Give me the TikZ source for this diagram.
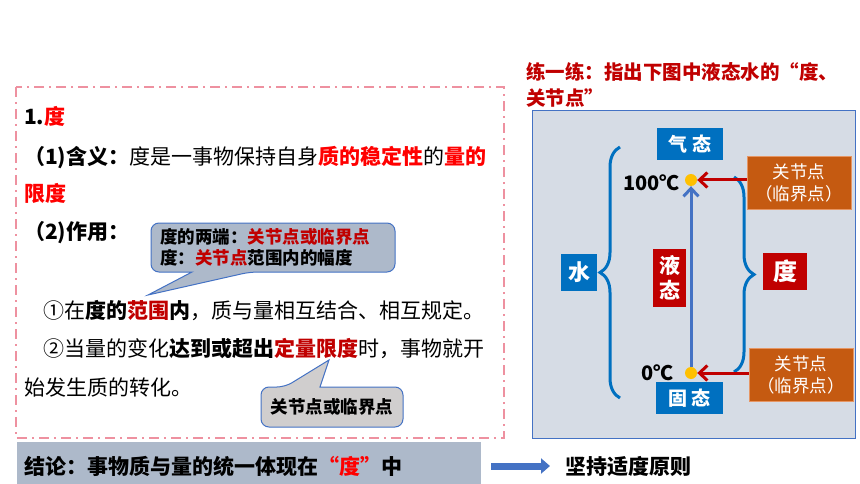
\documentclass[tikz,border=0pt]{standalone}
\usepackage{fontspec}
\setmainfont{Noto Sans CJK SC}
\usetikzlibrary{arrows.meta,decorations.pathreplacing}
\definecolor{keyred}{RGB}{255,0,0}
\definecolor{darkred}{RGB}{192,0,0}
\definecolor{pinkdash}{RGB}{238,145,160}
\definecolor{barfill}{RGB}{173,185,202}
\definecolor{panelfill}{RGB}{214,220,229}
\definecolor{panelline}{RGB}{68,114,196}
\definecolor{stateblue}{RGB}{0,112,192}
\definecolor{nodeorange}{RGB}{197,90,17}
\definecolor{orangeline}{RGB}{230,150,100}
\definecolor{dotyellow}{RGB}{255,192,0}
\definecolor{callgray}{RGB}{208,206,206}
\newcommand\setsz[2]{\fontsize{#1}{#2}\selectfont}
\newcommand\redbf[1]{\textbf{\textcolor{keyred}{#1}}}
\newcommand\drbf[1]{\textbf{\textcolor{darkred}{#1}}}
\tikzstyle{txt}=[anchor=west, inner sep=0pt, font=\setsz{21pt}{25pt}]
\tikzstyle{calltxt}=[inner sep=0pt, align=left, font=\bfseries\setsz{17.5pt}{21pt}]
\tikzstyle{statenode}=[fill=stateblue, text=white, inner sep=0pt, font=\bfseries\setsz{19pt}{22pt}]
\tikzstyle{rednode}=[fill=darkred, text=white, inner sep=0pt, align=center, font=\bfseries\setsz{22pt}{25pt}]
\tikzstyle{gjnode}=[fill=nodeorange, draw=orangeline, line width=0.8pt, text=white, align=center, inner sep=0pt, minimum width=104pt, minimum height=53pt, font=\setsz{17.5pt}{22pt}]
\tikzstyle{tempdot}=[circle, fill=dotyellow, inner sep=0pt, minimum size=12pt]
\tikzstyle{temptxt}=[anchor=east, inner sep=0pt, font=\bfseries\setsz{20pt}{24pt}]
\tikzstyle{curly}=[decorate, decoration={brace, amplitude=20pt}, line width=3pt, draw=stateblue]
\tikzstyle{redarrow}=[line width=3pt, draw=darkred, -{Straight Barb[length=8pt,width=15pt]}]
\tikzstyle{bluearrow}=[line width=3pt, draw=panelline, -{Straight Barb[length=8pt,width=15pt]}]
\tikzstyle{callshape}=[draw=panelline, line width=1pt]
\tikzstyle{fatarrow}=[line width=7pt, draw=panelline, -{Triangle[length=9pt,width=15pt]}]

\begin{document}
\begin{tikzpicture}[x=1pt, y=-1pt]
\useasboundingbox (0,0) rectangle (860,484);

\draw [pinkdash, line width=1.5pt, dash pattern=on 10pt off 5pt on 2pt off 5pt] (16,87) rectangle (504,438);
\node (l1) [txt] at (24,116) {\textbf{1.}\redbf{度}};
\node (l2) [txt] at (24,158) {\textbf{（1)含义：}度是一事物保持自身\redbf{质的稳定性}的\redbf{量的}};
\node (l3) [txt] at (24,193) {\redbf{限度}};
\node (l4) [txt] at (24,233) {\textbf{（2)作用：}};
\node (l5) [txt] at (43,311) {①在\textbf{度的}\drbf{范围}\textbf{内}，质与量相互结合、相互规定。};
\node (l6) [txt] at (43,349) {②当量的变化\textbf{达到或超出}\drbf{定量限度}时，事物就开};
\node (l7) [txt] at (24,388) {始发生质的转化。};

\draw [callshape, fill=barfill, rounded corners=8pt] (151,223) -- (395,223) -- (395,272) -- (250,272)
    [sharp corners] -- (148,295) -- (192,272) [rounded corners=8pt] -- (151,272) -- cycle;
\node (callA) [calltxt, anchor=west] at (160,247.5) {度的两端：\textcolor{darkred}{关节点或临界点}\\度：\textcolor{darkred}{关节点}范围内的幅度};

\draw [callshape, fill=callgray, rounded corners=8pt] (261,387) -- (285,387)
    [sharp corners] -- (329,360) -- (320,387) [rounded corners=8pt] -- (403,387) -- (403,427) -- (261,427) -- cycle;
\node (callB) [calltxt] at (332,407) {关节点或临界点};

\node (concl) [fill=barfill, anchor=west, text width=450pt, inner xsep=7pt, inner ysep=0pt, minimum height=48pt,
    font=\bfseries\setsz{21pt}{25pt}] at (17,466) {结论：事物质与量的统一体现在\textcolor{keyred}{“度”}中};
\node (rule) [txt, font=\bfseries\setsz{21pt}{25pt}] at (565,466) {坚持适度原则};
\draw [fatarrow, shorten <=10pt, shorten >=15pt] (concl.east) -- (rule.west);

\node (t1) [txt, text=darkred, font=\bfseries\setsz{19.5pt}{24pt}] at (526,72) {练一练：指出下图中液态水的“度、};
\node (t2) [txt, text=darkred, font=\bfseries\setsz{19.5pt}{24pt}] at (526,98) {关节点”};

\draw [fill=panelfill, draw=panelline, line width=1pt] (532,111) rectangle (855,438);

\node (gas) [statenode, minimum width=66pt, minimum height=32pt] at (690,144) {气 态};
\node (solid) [statenode, minimum width=67pt, minimum height=32pt] at (689.5,398) {固 态};
\node (water) [statenode, minimum width=36pt, minimum height=37pt, font=\bfseries\setsz{22pt}{25pt}] at (579,272.5) {水};
\node (liquid) [rednode, minimum width=33pt, minimum height=58pt, font=\bfseries\setsz{21pt}{25pt}] at (669.5,278) {液\\态};
\node (du) [rednode, minimum width=44pt, minimum height=37pt, font=\bfseries\setsz{24pt}{26pt}] at (785,271.5) {度};

\node (hot) [tempdot] at (691,180) {};
\node (cold) [tempdot] at (691,373) {};
\node (hotT) [temptxt] at (680,183) {100℃};
\node (coldT) [temptxt] at (674,373) {0℃};

\node (gjA) [gjnode] at (799,182.5) {关节点\\（临界点）};
\node (gjB) [gjnode] at (801,375) {关节点\\（临界点）};

\coordinate (lbTop) at (620,147);
\coordinate (lbBot) at (620,398);
\coordinate (rbTop) at (734,177);
\coordinate (rbBot) at (734,372);
\draw [curly] (lbBot) -- (lbTop);
\draw [curly] (rbTop) -- (rbBot);

\draw [bluearrow] (cold) -- (hot);
\draw [redarrow] (gjA.west |- hot) -- (hot);
\draw [redarrow] (gjB.west |- cold) -- (cold);
\end{tikzpicture}
\end{document}
